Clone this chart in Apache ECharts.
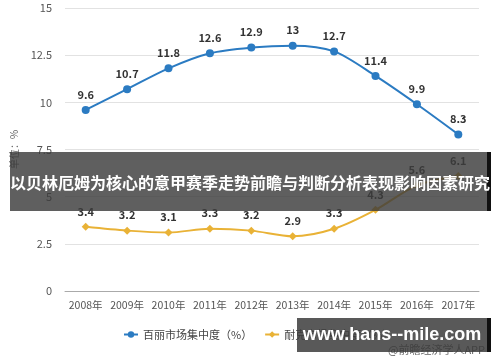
<!DOCTYPE html>
<html>
<head>
<meta charset="utf-8">
<script src="https://cdn.jsdelivr.net/npm/echarts@6/dist/echarts.min.js"></script>
<style>html,body{margin:0;padding:0;background:#fff;}#c{width:500px;height:362px;}</style>
</head>
<body>
<div id="c"></div>
<script>
var years = ['2008年','2009年','2010年','2011年','2012年','2013年','2014年','2015年','2016年','2017年'];
var belle = [9.6, 10.7, 11.8, 12.6, 12.9, 13, 12.7, 11.4, 9.9, 8.3];
var nike = [3.4, 3.2, 3.1, 3.3, 3.2, 2.9, 3.3, 4.3, 5.6, 6.1];
var belleName = '百丽市场集中度（%）';
var nikeName = '耐克市场集中度（%）';
var yTicks = [0, 2.5, 5, 7.5, 10, 12.5, 15];
var titleText = '以贝林厄姆为核心的意甲赛季走势前瞻与判断分析表现影响因素研究';
var siteText = 'www.hans--mile.com';
var sourceText = '@前瞻经济学人APP';

var chart = echarts.init(document.getElementById('c'));
var font = '"Noto Sans CJK SC", "Liberation Sans", sans-serif';
chart.setOption({
  animation: false,
  textStyle: {fontFamily: font},
  grid: {left: 65, right: 21, top: 8, bottom: 71},
  legend: {
    top: 324, left: 118, itemGap: 12, itemWidth: 14, itemHeight: 8,
    textStyle: {fontSize: 11, color: '#444', fontFamily: font},
    data: [belleName, nikeName]
  },
  xAxis: {
    type: 'category', data: years, boundaryGap: true,
    axisLine: {lineStyle: {color: '#aaa'}},
    axisTick: {alignWithLabel: true, lineStyle: {color: '#aaa'}},
    axisLabel: {color: '#555', fontSize: 10.5, margin: 9, interval: 0, fontFamily: font}
  },
  yAxis: {
    type: 'value', min: yTicks[0], max: yTicks[yTicks.length - 1], interval: 2.5,
    name: '单位：%', nameLocation: 'middle', nameGap: 46, nameRotate: 90,
    nameTextStyle: {color: '#666', fontSize: 10, fontFamily: font},
    axisLine: {show: false}, axisTick: {show: false},
    axisLabel: {color: '#555', fontSize: 11, margin: 13, fontFamily: font},
    splitLine: {lineStyle: {color: '#e2e2e2'}}
  },
  series: [
    {
      name: belleName, type: 'line', data: belle, smooth: 0.3,
      symbol: 'circle', symbolSize: 8,
      itemStyle: {color: '#2b7bc2'}, lineStyle: {width: 2, color: '#2b7bc2'},
      label: {show: true, position: 'top', distance: 6, color: '#333', fontWeight: 'bold', fontSize: 11, fontFamily: font}
    },
    {
      name: nikeName, type: 'line', data: nike, smooth: 0.3,
      symbol: 'diamond', symbolSize: 8,
      itemStyle: {color: '#e9b236'}, lineStyle: {width: 2, color: '#e9b236'},
      label: {show: true, position: 'top', distance: 6, color: '#333', fontWeight: 'bold', fontSize: 11, fontFamily: font}
    }
  ],
  graphic: [
    {type: 'text', right: 15, top: 344, z: 5,
     style: {text: sourceText, fill: '#666', font: '11px ' + font}},
    {type: 'rect', shape: {x: 10, y: 152, width: 479, height: 59}, z: 10,
     style: {fill: 'rgba(60,60,60,0.82)'}},
    {type: 'rect', shape: {x: 487, y: 152, width: 4, height: 59}, z: 11,
     style: {fill: '#111'}},
    {type: 'text', x: 250, y: 183, z: 12,
     style: {text: titleText, fill: '#fff', font: 'bold 16px ' + font, textAlign: 'center', textVerticalAlign: 'middle'}},
    {type: 'rect', shape: {x: 297, y: 318, width: 191, height: 34}, z: 10,
     style: {fill: 'rgba(60,60,60,0.85)'}},
    {type: 'rect', shape: {x: 487, y: 318, width: 4, height: 34}, z: 11,
     style: {fill: '#111'}},
    {type: 'text', x: 392, y: 335, z: 12,
     style: {text: siteText, fill: '#fff', font: 'bold 18px "Liberation Sans", Arial, sans-serif', textAlign: 'center', textVerticalAlign: 'middle'}}
  ]
});
</script>
</body>
</html>
